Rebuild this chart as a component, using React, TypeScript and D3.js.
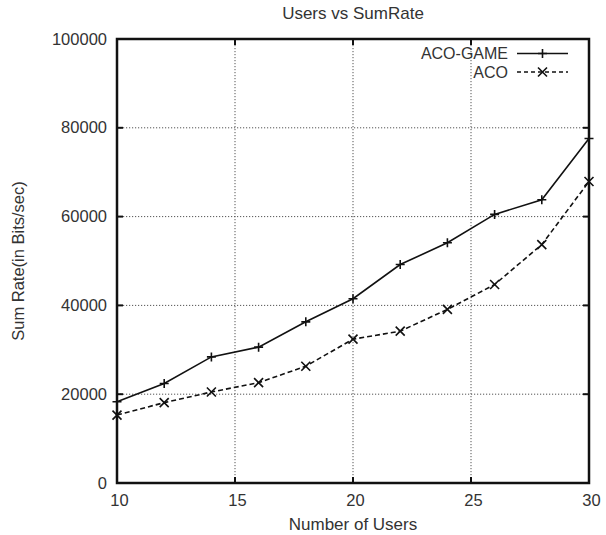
import React, { useEffect, useRef } from 'react';
import * as d3 from 'd3';

const users = [10, 12, 14, 16, 18, 20, 22, 24, 26, 28, 30];
const acoGame = [18300, 22400, 28400, 30600, 36300, 41500, 49200, 54100, 60500, 63800, 77600];
const aco = [15300, 18100, 20500, 22600, 26300, 32400, 34200, 39100, 44700, 53700, 67900];
const xTicks = [10, 15, 20, 25, 30];
const yTicks = [0, 20000, 40000, 60000, 80000, 100000];

const App = () => {
  const svgRef = useRef<SVGSVGElement>(null);

  useEffect(() => {
    const svg = d3.select(svgRef.current);
    svg.selectAll('*').remove();

    const width = 606;
    const height = 535;
    const margin = { top: 39, right: 17, bottom: 52, left: 117 };
    const font = '"Liberation Sans", Arial, sans-serif';
    const textColor = '#333';

    const x = d3.scaleLinear().domain([10, 30]).range([margin.left, width - margin.right]);
    const y = d3.scaleLinear().domain([0, 100000]).range([height - margin.bottom, margin.top]);

    // grid
    svg.append('g')
      .selectAll('line')
      .data(xTicks.slice(1, -1))
      .enter()
      .append('line')
      .attr('x1', d => x(d)).attr('x2', d => x(d))
      .attr('y1', y(100000)).attr('y2', y(0))
      .attr('stroke', '#555').attr('stroke-width', 1).attr('stroke-dasharray', '1.2,1.8');

    svg.append('g')
      .selectAll('line')
      .data(yTicks.slice(1, -1))
      .enter()
      .append('line')
      .attr('x1', x(10)).attr('x2', x(30))
      .attr('y1', d => y(d)).attr('y2', d => y(d))
      .attr('stroke', '#555').attr('stroke-width', 1).attr('stroke-dasharray', '1.2,1.8');

    // ticks (inward on all sides)
    const tk = 6;
    const ticks = svg.append('g').attr('stroke', '#111').attr('stroke-width', 2);
    xTicks.forEach(t => {
      ticks.append('line').attr('x1', x(t)).attr('x2', x(t)).attr('y1', y(0)).attr('y2', y(0) - tk);
      ticks.append('line').attr('x1', x(t)).attr('x2', x(t)).attr('y1', y(100000)).attr('y2', y(100000) + tk);
    });
    yTicks.forEach(t => {
      ticks.append('line').attr('x1', x(10)).attr('x2', x(10) + tk).attr('y1', y(t)).attr('y2', y(t));
      ticks.append('line').attr('x1', x(30)).attr('x2', x(30) - tk).attr('y1', y(t)).attr('y2', y(t));
    });

    // tick labels
    svg.append('g')
      .selectAll('text')
      .data(xTicks)
      .enter()
      .append('text')
      .attr('x', d => x(d) + 2.5)
      .attr('y', y(0) + 23)
      .attr('text-anchor', 'middle')
      .style('font-family', font)
      .style('font-size', '16.5px')
      .attr('fill', textColor)
      .text(d => d);

    svg.append('g')
      .selectAll('text')
      .data(yTicks)
      .enter()
      .append('text')
      .attr('x', x(10) - 10)
      .attr('y', d => y(d) + 5.5)
      .attr('text-anchor', 'end')
      .style('font-family', font)
      .style('font-size', '16.5px')
      .attr('fill', textColor)
      .text(d => d);

    // series
    const line = d3.line<number>()
      .x((d, i) => x(users[i]))
      .y(d => y(d));

    svg.append('path')
      .datum(acoGame)
      .attr('d', line)
      .attr('fill', 'none')
      .attr('stroke', '#111')
      .attr('stroke-width', 1.6);

    svg.append('path')
      .datum(aco)
      .attr('d', line)
      .attr('fill', 'none')
      .attr('stroke', '#111')
      .attr('stroke-width', 1.6)
      .attr('stroke-dasharray', '5,3');

    const m = 4.5;
    const plus = (g, cx, cy) => {
      g.append('path')
        .attr('d', `M${cx - m},${cy}H${cx + m}M${cx},${cy - m}V${cy + m}`)
        .attr('stroke', '#111').attr('stroke-width', 1.6);
    };
    const cross = (g, cx, cy) => {
      g.append('path')
        .attr('d', `M${cx - m},${cy - m}L${cx + m},${cy + m}M${cx - m},${cy + m}L${cx + m},${cy - m}`)
        .attr('stroke', '#111').attr('stroke-width', 1.6);
    };

    const marks = svg.append('g');
    acoGame.forEach((v, i) => plus(marks, x(users[i]), y(v)));
    aco.forEach((v, i) => cross(marks, x(users[i]), y(v)));

    // frame
    svg.append('rect')
      .attr('x', x(10)).attr('y', y(100000))
      .attr('width', x(30) - x(10)).attr('height', y(0) - y(100000))
      .attr('fill', 'none').attr('stroke', '#111').attr('stroke-width', 2.5);

    // legend
    const legend = [
      { name: 'ACO-GAME', y: 53.5, dash: null, mark: plus },
      { name: 'ACO', y: 72, dash: '4,3', mark: cross },
    ];
    legend.forEach(l => {
      svg.append('text')
        .attr('x', 508).attr('y', l.y + 5.5)
        .attr('text-anchor', 'end')
        .style('font-family', font).style('font-size', '16px')
        .attr('fill', textColor)
        .text(l.name);
      svg.append('line')
        .attr('x1', 517).attr('x2', 568).attr('y1', l.y).attr('y2', l.y)
        .attr('stroke', '#111').attr('stroke-width', 1.6)
        .attr('stroke-dasharray', l.dash);
      l.mark(svg, 542.5, l.y);
    });

    // title and axis labels
    svg.append('text')
      .attr('x', 353).attr('y', 19)
      .attr('text-anchor', 'middle')
      .style('font-family', font).style('font-size', '17px')
      .attr('fill', textColor)
      .text('Users vs SumRate');

    svg.append('text')
      .attr('x', 353).attr('y', 530)
      .attr('text-anchor', 'middle')
      .style('font-family', font).style('font-size', '17px')
      .attr('fill', textColor)
      .text('Number of Users');

    svg.append('text')
      .attr('transform', `translate(24,${(y(0) + y(100000)) / 2}) rotate(-90)`)
      .attr('text-anchor', 'middle')
      .style('font-family', font).style('font-size', '16.5px')
      .attr('fill', textColor)
      .text('Sum Rate(in Bits/sec)');
  }, []);

  return (
    <svg
      ref={svgRef}
      width={606}
      height={535}
      style={{ position: 'absolute', left: 0, top: 0, background: '#fff' }}
    />
  );
};

export default App;
